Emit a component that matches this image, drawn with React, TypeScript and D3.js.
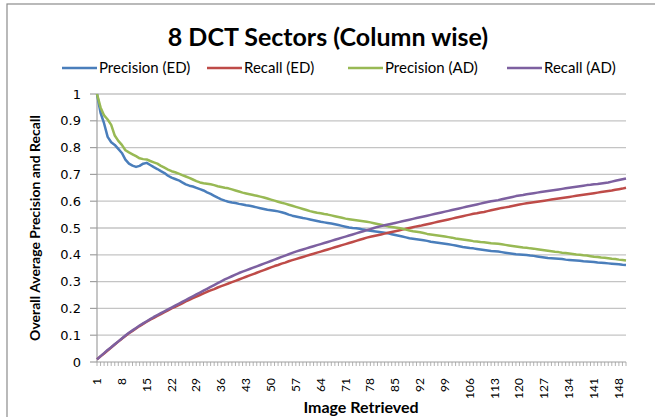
import React from "react";
import * as d3 from "d3";

const categories: number[] = d3.range(1, 151);
const tickLabels: number[] = [1, 8, 15, 22, 29, 36, 43, 50, 57, 64, 71, 78, 85, 92, 99, 106, 113, 120, 127, 134, 141, 148];
const yTicks: number[] = [0, 0.1, 0.2, 0.3, 0.4, 0.5, 0.6, 0.7, 0.8, 0.9, 1];

const precisionED: number[] = [
  1.0, 0.93, 0.89, 0.84, 0.82, 0.81, 0.795, 0.78, 0.755, 0.74,
  0.733, 0.728, 0.732, 0.74, 0.743, 0.735, 0.727, 0.72, 0.712, 0.705,
  0.695, 0.688, 0.683, 0.678, 0.67, 0.663, 0.658, 0.655, 0.65, 0.645,
  0.64, 0.633, 0.627, 0.62, 0.613, 0.607, 0.602, 0.598, 0.595, 0.593,
  0.59, 0.588, 0.585, 0.583, 0.58, 0.577, 0.574, 0.571, 0.568, 0.566,
  0.564, 0.562, 0.559, 0.555, 0.55, 0.546, 0.543, 0.54, 0.537, 0.535,
  0.532, 0.529, 0.526, 0.523, 0.521, 0.519, 0.517, 0.514, 0.511, 0.508,
  0.505, 0.502, 0.5, 0.499, 0.497, 0.494, 0.492, 0.49, 0.488, 0.486,
  0.484, 0.482, 0.48, 0.477, 0.474, 0.471, 0.468, 0.465, 0.462, 0.46,
  0.458, 0.456, 0.454, 0.452, 0.449, 0.447, 0.445, 0.443, 0.441, 0.439,
  0.437, 0.435, 0.432, 0.429, 0.427, 0.425, 0.424, 0.422, 0.42, 0.418,
  0.416, 0.414, 0.413, 0.412, 0.41, 0.408, 0.406, 0.404, 0.402, 0.401,
  0.4, 0.399, 0.397, 0.396, 0.394, 0.392, 0.39, 0.388, 0.387, 0.386,
  0.385, 0.384, 0.382, 0.381, 0.38, 0.379, 0.378, 0.376, 0.375, 0.374,
  0.373, 0.371, 0.37, 0.369, 0.368, 0.367, 0.366, 0.365, 0.363, 0.362,
];

const recallED: number[] = [
  0.01, 0.021, 0.032, 0.043, 0.054, 0.065, 0.076, 0.087, 0.097, 0.107,
  0.116, 0.125, 0.134, 0.142, 0.15, 0.158, 0.165, 0.172, 0.179, 0.186,
  0.193, 0.2, 0.206, 0.212, 0.219, 0.226, 0.232, 0.238, 0.244, 0.25,
  0.256, 0.262, 0.267, 0.272, 0.278, 0.283, 0.288, 0.293, 0.298, 0.303,
  0.308, 0.313, 0.318, 0.323, 0.328, 0.333, 0.338, 0.343, 0.348, 0.353,
  0.358, 0.362, 0.367, 0.371, 0.376, 0.38, 0.384, 0.388, 0.392, 0.396,
  0.4, 0.404, 0.408, 0.412, 0.416, 0.42, 0.424, 0.428, 0.432, 0.436,
  0.44, 0.444, 0.448, 0.452, 0.456, 0.46, 0.464, 0.467, 0.47, 0.473,
  0.476, 0.479, 0.482, 0.485, 0.488, 0.491, 0.494, 0.497, 0.5, 0.503,
  0.506, 0.508, 0.511, 0.514, 0.517, 0.52, 0.523, 0.526, 0.529, 0.532,
  0.535, 0.538, 0.541, 0.544, 0.547, 0.55, 0.553, 0.555, 0.558, 0.56,
  0.563, 0.566, 0.569, 0.572, 0.575, 0.577, 0.579, 0.582, 0.585, 0.588,
  0.59, 0.592, 0.594, 0.596, 0.598, 0.6, 0.602, 0.604, 0.606, 0.608,
  0.61, 0.612, 0.614, 0.616, 0.618, 0.62, 0.622, 0.624, 0.626, 0.628,
  0.63, 0.632, 0.634, 0.636, 0.638, 0.64, 0.643, 0.645, 0.647, 0.65,
];

const precisionAD: number[] = [
  1.0, 0.95, 0.92, 0.905, 0.885, 0.845, 0.825, 0.81, 0.79, 0.782,
  0.775, 0.768, 0.76, 0.757, 0.756, 0.75, 0.745, 0.74, 0.732, 0.725,
  0.718, 0.712, 0.708, 0.703, 0.697, 0.692, 0.687, 0.681, 0.675, 0.67,
  0.667, 0.665, 0.663, 0.66, 0.656, 0.653, 0.65, 0.648, 0.644, 0.64,
  0.636, 0.632, 0.629, 0.626, 0.623, 0.62, 0.617, 0.614, 0.61, 0.606,
  0.602, 0.598, 0.594, 0.591, 0.587, 0.583, 0.579, 0.575, 0.571, 0.567,
  0.563, 0.56, 0.557, 0.555, 0.552, 0.55, 0.547, 0.544, 0.541, 0.538,
  0.535, 0.533, 0.531, 0.529, 0.527, 0.525, 0.523, 0.521, 0.518, 0.515,
  0.512, 0.509, 0.506, 0.504, 0.502, 0.5, 0.497, 0.494, 0.491, 0.488,
  0.486, 0.484, 0.481, 0.478, 0.476, 0.474, 0.472, 0.47, 0.468, 0.466,
  0.464, 0.461, 0.459, 0.457, 0.455, 0.453, 0.451, 0.45, 0.448, 0.447,
  0.445, 0.443, 0.442, 0.441, 0.439, 0.437, 0.435, 0.433, 0.431, 0.429,
  0.427, 0.426, 0.424, 0.423, 0.421, 0.419, 0.417, 0.415, 0.413, 0.411,
  0.41, 0.408, 0.407, 0.405, 0.403, 0.401, 0.4, 0.398, 0.397, 0.395,
  0.393, 0.392, 0.39, 0.389, 0.387, 0.385, 0.384, 0.382, 0.381, 0.379,
];

const recallAD: number[] = [
  0.01, 0.022, 0.033, 0.045, 0.055, 0.066, 0.077, 0.088, 0.099, 0.109,
  0.118, 0.127, 0.136, 0.144, 0.152, 0.16, 0.168, 0.175, 0.182, 0.189,
  0.196, 0.203, 0.21, 0.217, 0.224, 0.231, 0.238, 0.245, 0.252, 0.259,
  0.266, 0.273, 0.28, 0.287, 0.294, 0.301, 0.308, 0.314, 0.32, 0.326,
  0.332, 0.337, 0.342, 0.347, 0.352, 0.357, 0.362, 0.367, 0.372, 0.377,
  0.382, 0.387, 0.392, 0.397, 0.402, 0.407, 0.412, 0.416, 0.42, 0.424,
  0.428, 0.432, 0.436, 0.44, 0.444, 0.448, 0.452, 0.456, 0.46, 0.464,
  0.468, 0.472, 0.476, 0.48, 0.484, 0.488, 0.492, 0.496, 0.5, 0.504,
  0.507, 0.51, 0.513, 0.516, 0.519, 0.522, 0.525, 0.528, 0.531, 0.534,
  0.537, 0.54, 0.543, 0.546, 0.549, 0.552, 0.555, 0.558, 0.561, 0.564,
  0.567, 0.57, 0.573, 0.576, 0.579, 0.582, 0.585, 0.588, 0.591, 0.594,
  0.597, 0.6, 0.602, 0.604, 0.607, 0.61, 0.613, 0.616, 0.619, 0.621,
  0.623, 0.626, 0.628, 0.63, 0.632, 0.634, 0.636, 0.638, 0.64, 0.642,
  0.644, 0.646, 0.648, 0.65, 0.652, 0.654, 0.656, 0.658, 0.66, 0.661,
  0.663, 0.664, 0.666, 0.668, 0.67, 0.673, 0.676, 0.679, 0.682, 0.685,
];

const seriesNames: string[] = ["Precision (ED)", "Recall (ED)", "Precision (AD)", "Recall (AD)"];
const seriesColors: string[] = ["#4a7ebb", "#be4b48", "#98b954", "#7d60a0"];
const seriesData: number[][] = [precisionED, recallED, precisionAD, recallAD];

const W = 655;
const H = 417;
const FONT = "Lato, 'Open Sans', sans-serif";

export default function App() {
  const left = 97;
  const right = 626;
  const top = 94;
  const bottom = 362;

  const x = d3.scaleLinear().domain([1, categories.length]).range([left, right]);
  const y = d3.scaleLinear().domain([0, 1]).range([bottom, top]);

  const line = d3
    .line<number>()
    .x((_, i) => x(categories[i]))
    .y((d) => y(d));

  const tickStep = (right - left) / (categories.length - 1);
  const legendX = [62, 207, 348, 507];

  return (
    <svg
      width={W}
      height={H}
      style={{ position: "absolute", left: 0, top: 0, background: "#fff" }}
      fontFamily={FONT}
    >
      <rect x={0} y={0} width={W} height={H} fill="#fff" />
      <rect x={7} y={4} width={W + 20} height={H + 20} fill="none" stroke="#8c8c8c" strokeWidth={1.2} />

      <text x={328} y={46} textAnchor="middle" fontSize={25} fontWeight="bold" fill="#000">
        8 DCT Sectors (Column wise)
      </text>

      {seriesNames.map((name, k) => (
        <g key={name}>
          <line x1={legendX[k]} x2={legendX[k] + 35} y1={68} y2={68} stroke={seriesColors[k]} strokeWidth={2.5} />
          <text x={legendX[k] + 37} y={73} fontSize={15} fill="#000">
            {name}
          </text>
        </g>
      ))}

      {yTicks.map((t) => (
        <g key={t}>
          {t > 0 && (
            <line x1={left} x2={right} y1={y(t)} y2={y(t)} stroke="#c4c4c4" strokeWidth={1.3} />
          )}
          <line x1={left - 7} x2={left} y1={y(t)} y2={y(t)} stroke="#a0a0a0" strokeWidth={1.2} />
          <text
            x={left - 16}
            y={y(t) + 4.5}
            textAnchor="end"
            fontSize={13}
            fontFamily="'DejaVu Sans', sans-serif"
            fill="#000"
          >
            {String(t)}
          </text>
        </g>
      ))}

      <line x1={left} x2={left} y1={top} y2={bottom} stroke="#a0a0a0" strokeWidth={1.2} />
      <line x1={left} x2={right} y1={bottom} y2={bottom} stroke="#a0a0a0" strokeWidth={1.2} />
      {categories.map((c, i) => (
        <line
          key={c}
          x1={left + i * tickStep}
          x2={left + i * tickStep}
          y1={bottom}
          y2={bottom + 4}
          stroke="#a0a0a0"
          strokeWidth={0.8}
        />
      ))}

      {tickLabels.map((t) => (
        <text
          key={t}
          transform={`translate(${x(t) + 4},${bottom + 16}) rotate(-90)`}
          textAnchor="end"
          fontSize={12}
          fill="#000"
        >
          {String(t)}
        </text>
      ))}

      {seriesData.map((d, k) => (
        <path
          key={seriesNames[k]}
          d={line(d) || ""}
          fill="none"
          stroke={seriesColors[k]}
          strokeWidth={2.5}
          strokeLinejoin="round"
        />
      ))}

      <text
        transform={`translate(40,${(top + bottom) / 2}) rotate(-90)`}
        textAnchor="middle"
        fontSize={14}
        fontWeight="bold"
        fill="#000"
      >
        Overall Average Precision and Recall
      </text>
      <text x={361} y={413} textAnchor="middle" fontSize={16} fontWeight="bold" fill="#000">
        Image Retrieved
      </text>
    </svg>
  );
}
